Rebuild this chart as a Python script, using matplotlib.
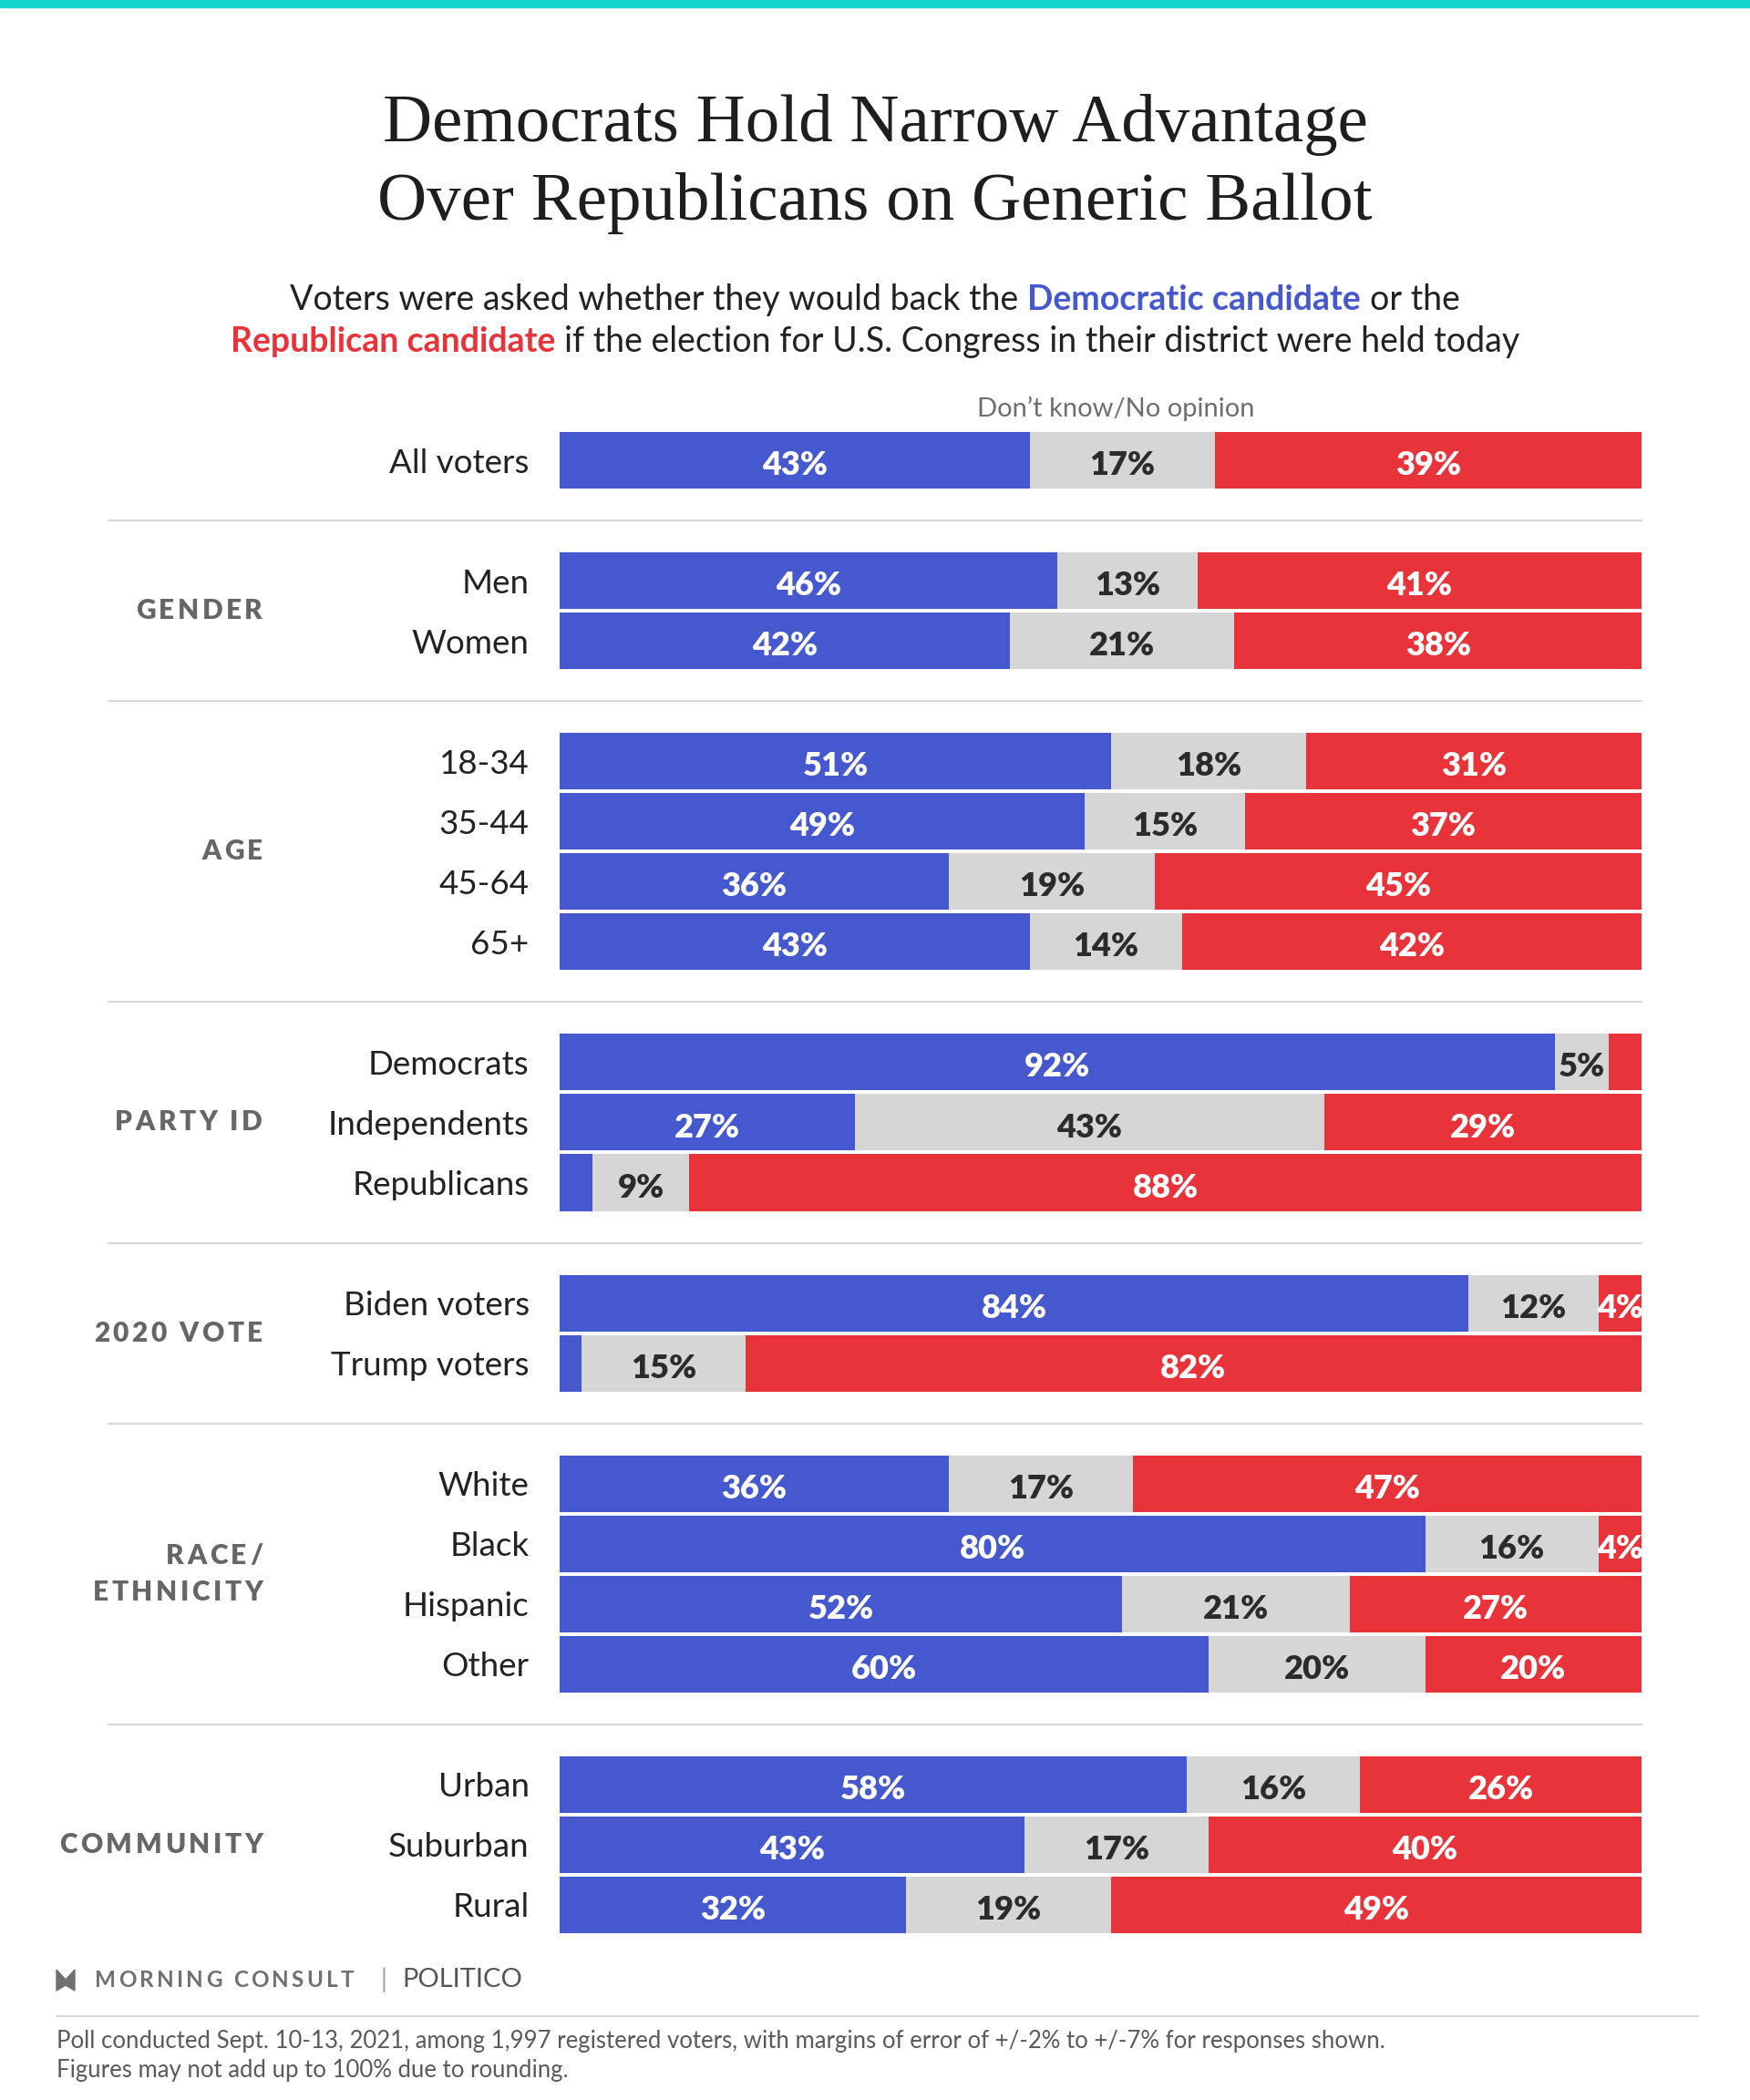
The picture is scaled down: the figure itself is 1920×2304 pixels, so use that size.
import matplotlib
matplotlib.use("Agg")
import matplotlib.pyplot as plt
from matplotlib.patches import Rectangle, Polygon
import numpy as np

plt.rcParams['font.family'] = ['Lato', 'DejaVu Sans']

# donnees
categories = ['All voters', 'Men', 'Women', '18-34', '35-44', '45-64', '65+',
              'Democrats', 'Independents', 'Republicans', 'Biden voters', 'Trump voters',
              'White', 'Black', 'Hispanic', 'Other', 'Urban', 'Suburban', 'Rural']
groups = ['', 'GENDER', 'AGE', 'PARTY ID', '2020 VOTE', 'RACE/\nETHNICITY', 'COMMUNITY']
group_of = [0, 1, 1, 2, 2, 2, 2, 3, 3, 3, 4, 4, 5, 5, 5, 5, 6, 6, 6]
dem = [43, 46, 42, 51, 49, 36, 43, 92, 27, 3, 84, 2, 36, 80, 52, 60, 58, 43, 32]
dont_know = [17, 13, 21, 18, 15, 19, 14, 5, 43, 9, 12, 15, 17, 16, 21, 20, 16, 17, 19]
rep = [39, 41, 38, 31, 37, 45, 42, 3, 29, 88, 4, 82, 47, 4, 27, 20, 26, 40, 49]

BLUE = '#4658CE'
RED = '#E8333A'
GREY = '#D6D6D6'
DARK = '#2b2b2b'
MID = '#666666'

W, H = 1920, 2304
fig = plt.figure(figsize=(19.2, 23.04), dpi=100)
renderer = fig.canvas.get_renderer()


def fx(px):
    return px / W


def fy(py):
    return 1 - py / H


# bandeau du haut
fig.patches.append(Rectangle((0, fy(8)), 1, 8 / H, transform=fig.transFigure,
                             color='#12D6CC', zorder=5))

# titre
fig.text(0.5, fy(137), 'Democrats Hold Narrow Advantage', ha='center', va='center',
         fontsize=54, family='Liberation Serif', color='#1e1e1e')
fig.text(0.5, fy(223), 'Over Republicans on Generic Ballot', ha='center', va='center',
         fontsize=54, family='Liberation Serif', color='#1e1e1e')


def width_of(s, size, weight):
    t = fig.text(0, 0, s, fontsize=size, fontweight=weight)
    w = t.get_window_extent(renderer).width
    t.remove()
    return w


def rich_line(ypx, parts, size):
    space = width_of('x x', size, 'normal') - width_of('xx', size, 'normal')
    texts = []
    widths = []
    for s, c, wgt in parts:
        t = fig.text(0, fy(ypx), s.strip(), color=c, fontsize=size, fontweight=wgt,
                     va='center', ha='left')
        texts.append(t)
        widths.append(t.get_window_extent(renderer).width)
    total = sum(widths) + space * (len(parts) - 1)
    x = (W - total) / 2
    for t, wd in zip(texts, widths):
        t.set_x(x / W)
        x += wd + space


rich_line(329, [('Voters were asked whether they would back the', '#222222', 'normal'),
                ('Democratic candidate', BLUE, 'bold'),
                ('or the', '#222222', 'normal')], 27)
rich_line(375, [('Republican candidate', RED, 'bold'),
                ('if the election for U.S. Congress in their district were held today',
                 '#222222', 'normal')], 27)


def spaced_text(xright, ypx, s, size, gap, color, weight='bold'):
    sp = width_of('x x', size, weight) - width_of('xx', size, weight)
    ws = [sp if ch == ' ' else width_of(ch, size, weight) for ch in s]
    total = sum(ws) + gap * (len(s) - 1)
    x = xright - total
    for ch, wd in zip(s, ws):
        if ch != ' ':
            fig.text(x / W, fy(ypx), ch, fontsize=size, fontweight=weight, color=color,
                     va='center', ha='left')
        x += wd + gap


# axe des barres
y_top, y_bot = 472, 2123
x_left, x_right = 614, 1801
ax = fig.add_axes([fx(x_left), fy(y_bot), (x_right - x_left) / W, (y_bot - y_top) / H])

pos = np.arange(len(categories)) + np.array(group_of)
tot = np.array(dem) + np.array(dont_know) + np.array(rep)
shares = [np.array(dem) / tot * 100, np.array(dont_know) / tot * 100, np.array(rep) / tot * 100]
raw = [dem, dont_know, rep]
colors = [BLUE, GREY, RED]
txtcol = ['white', DARK, 'white']

left = np.zeros(len(categories))
for sh, rv, c, tc in zip(shares, raw, colors, txtcol):
    bars = ax.barh(pos, sh, left=left, height=0.94, color=c, linewidth=0)
    labs = [f'{v}%' if v >= 4 else '' for v in rv]
    lbls = ax.bar_label(bars, labels=labs, label_type='center', color=tc, fontsize=26,
                        fontweight='heavy')
    for t in lbls:
        t.xyann = (0, -4)
    left = left + sh

ax.set_xlim(0, 100)
ax.set_ylim(pos[-1] + 0.5, -0.5)
ax.set_yticks(pos, categories)
ax.tick_params(axis='y', length=0, pad=24, labelsize=26.5, labelcolor='#222222')
ax.set_xticks([])
for s in ax.spines.values():
    s.set_visible(False)

# separateurs et noms de groupes
sep_x0 = (119 - x_left) / (x_right - x_left)
g = np.array(group_of)
for k in range(1, len(groups)):
    first = pos[g == k][0]
    prev_last = pos[g == k - 1][-1]
    ysep = (first + prev_last) / 2
    ax.plot([sep_x0, 1.0], [ysep, ysep], transform=ax.get_yaxis_transform(),
            color='#dadada', lw=1.6, clip_on=False)
    ymid = pos[g == k].mean()
    ypx = y_top + (ymid + 0.5) / (pos[-1] + 1) * (y_bot - y_top)
    lines = groups[k].split('\n')
    for j, ln in enumerate(lines):
        off = (j - (len(lines) - 1) / 2) * 40
        spaced_text(288, ypx + off, ln, 21.5, 3.5, MID, 'heavy')

fig.text(fx(1224), fy(448), 'Don\u2019t know/No opinion', fontsize=21, color='#6e6e6e',
         ha='center', va='center')

# logos
fig.patches.append(Polygon([[fx(62), fy(2161)], [fx(72), fy(2172)], [fx(82), fy(2161)],
                            [fx(82), fy(2184)], [fx(72), fy(2178)], [fx(62), fy(2184)]],
                           closed=True, transform=fig.transFigure, color='#707070'))
spaced_text(388, 2172, 'MORNING CONSULT', 17.5, 3.2, '#707070')
fig.text(fx(418), fy(2172), '|', fontsize=20, color='#9a9a9a', va='center', ha='left')
fig.text(fx(441), fy(2172), 'POLITICO', fontsize=21, color='#555555', va='center', ha='left')

# pied de page
fig.lines.append(plt.Line2D([fx(62), fx(1863)], [fy(2212), fy(2212)], transform=fig.transFigure,
                            color='#d9d9d9', lw=1.6))
fig.text(fx(62), fy(2240), 'Poll conducted Sept. 10-13, 2021, among 1,997 registered voters, '
         'with margins of error of +/-2% to +/-7% for responses shown.', fontsize=18.5,
         color='#5a5a5a', va='center', ha='left')
fig.text(fx(62), fy(2272), 'Figures may not add up to 100% due to rounding.', fontsize=18.5,
         color='#5a5a5a', va='center', ha='left')

fig.savefig('out.png', dpi=100, facecolor='white')
